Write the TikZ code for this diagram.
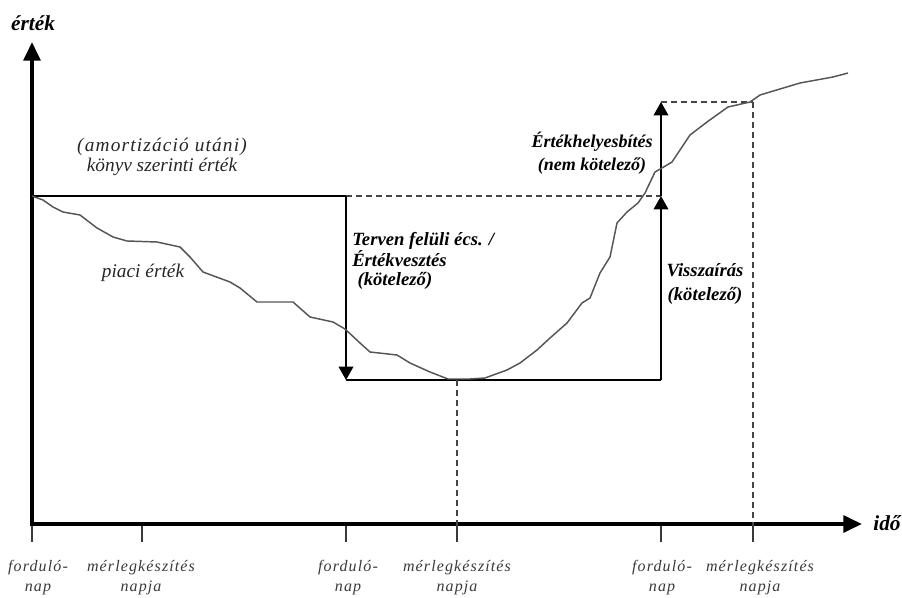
\documentclass[tikz,border=0pt]{standalone}
\usepackage{fontspec}
\setmainfont{Liberation Serif}
\newfontfamily\tickfont{Liberation Serif}[LetterSpace=7]
\newfontfamily\wideserif{Liberation Serif}[LetterSpace=6]
\usetikzlibrary{arrows.meta}
\definecolor{curvegray}{HTML}{555555}
\definecolor{dashgray}{HTML}{444444}
\definecolor{tickgray}{HTML}{3A3A3A}
\begin{document}
\begin{tikzpicture}[x=0.75pt,y=-0.75pt,
  axisline/.style={line width=3pt, line cap=butt},
  axtip/.style={-{Triangle[length=14pt,width=12.5pt]}},
  bookline/.style={line width=1.1pt, black},
  smallarrow/.style={line width=1.1pt, black, -{Triangle[length=10pt,width=11pt]}},
  dashline/.style={line width=1.1pt, dashgray, dash pattern=on 4.5pt off 3pt},
  tickline/.style={line width=1.2pt, tickgray},
  curveline/.style={line width=1.1pt, curvegray, line join=round},
  ticklabel/.style={font=\fontsize{12}{15}\tickfont\itshape, text=tickgray, align=center, inner sep=0pt},
  boldlabel/.style={font=\fontsize{14}{17}\selectfont\bfseries\itshape, inner sep=0pt},
  axislabel/.style={font=\fontsize{16}{18}\selectfont\bfseries\itshape, inner sep=0pt},
  plainlabel/.style={font=\fontsize{14.5}{15}\selectfont\itshape, text=black!85, align=center, inner sep=0pt}
]
\useasboundingbox (0,0) rectangle (902,598);

% axes
\coordinate (O) at (32,524);
\coordinate (Ox) at (30,524);
\coordinate (Ob) at (32,526);
\coordinate (Ytop) at (32,42);
\coordinate (Xend) at (862,524);
\draw[axisline,axtip] (Ox) -- (Xend);
\draw[axisline,axtip] (Ob) -- (Ytop);
\node[axislabel] (ylab) at (33,23) {érték};
\node[axislabel] (xlab) at (887,523) {idő};

% ticks
\foreach \x/\n in {32/t1,142/t2,346/t3,457/t4,661/t5,753/t6}{
  \coordinate (\n a) at (\x,525.5);
  \coordinate (\n b) at (\x,542);
  \draw[tickline] (\n a) -- (\n b);
}
\node[ticklabel] (l1) at (38,578) {forduló-\\nap};
\node[ticklabel] (l2) at (141,578) {mérlegkészítés\\napja};
\node[ticklabel] (l3) at (348,578) {forduló-\\nap};
\node[ticklabel] (l4) at (457,578) {mérlegkészítés\\napja};
\node[ticklabel] (l5) at (662,578) {forduló-\\nap};
\node[ticklabel] (l6) at (760,578) {mérlegkészítés\\napja};

% key points
\coordinate (BV0) at (32,196);
\coordinate (BV1) at (346,196);
\coordinate (BV2) at (661,196);
\coordinate (Low1) at (346,380);
\coordinate (Low2) at (661,380);
\coordinate (LowMid) at (457,380);
\coordinate (Up) at (661,102);
\coordinate (Up2) at (753,102);

% book value line
\draw[bookline] (BV0) -- (BV1);
\draw[dashline] (BV1) -- (BV2);
% impairment arrow
\draw[smallarrow] (BV1) -- (Low1);
\draw[bookline] (Low1) -- (Low2);
% reversal arrows
\draw[smallarrow] (Low2) -- (BV2);
\draw[smallarrow] (BV2) -- (Up);
% dashed guides
\draw[dashline] (Up) -- (Up2);
\draw[dashline] (Up2) -- (t6a);
\draw[dashline] (LowMid) -- (t4a);

% market value curve
\draw[curveline] plot coordinates {
(32,196) (43,200) (53,207) (63,212) (80,215) (97,228) (113,237) (127,241)
(157,242) (180,247) (190,257) (203,272) (230,282) (240,288) (257,302)
(293,302) (310,317) (333,322) (345,329) (360,343) (370,352) (397,355)
(410,363) (430,372) (448,379) (470,379) (485,378) (507,370) (520,363)
(537,350) (550,338) (567,323) (582,303) (590,298) (600,273) (610,257)
(617,223) (627,212) (638,203) (645,193) (655,172) (662,168) (672,162)
(690,135) (707,122) (728,107) (750,102) (760,95) (800,83) (833,77) (848,73)};

% labels
\node[plainlabel] (book) at (162,157) {{\wideserif\itshape (amortizáció utáni)}\\könyv szerinti érték};
\node[plainlabel] (market) at (143,273) {piaci érték};
\node[boldlabel, align=left, anchor=west, font=\fontsize{14}{14.5}\selectfont\bfseries\itshape] (imp) at (352,261)
  {Terven felüli écs. /\\Értékvesztés\\\hspace*{4pt}(kötelező)};
\node[boldlabel, align=center, font=\fontsize{13.5}{17.5}\selectfont\bfseries\itshape] (reval) at (592,153)
  {Értékhelyesbítés\\(nem kötelező)};
\node[boldlabel, align=center, font=\fontsize{14}{18.5}\selectfont\bfseries\itshape] (rev) at (705,284)
  {Visszaírás\\(kötelező)};
\end{tikzpicture}
\end{document}
